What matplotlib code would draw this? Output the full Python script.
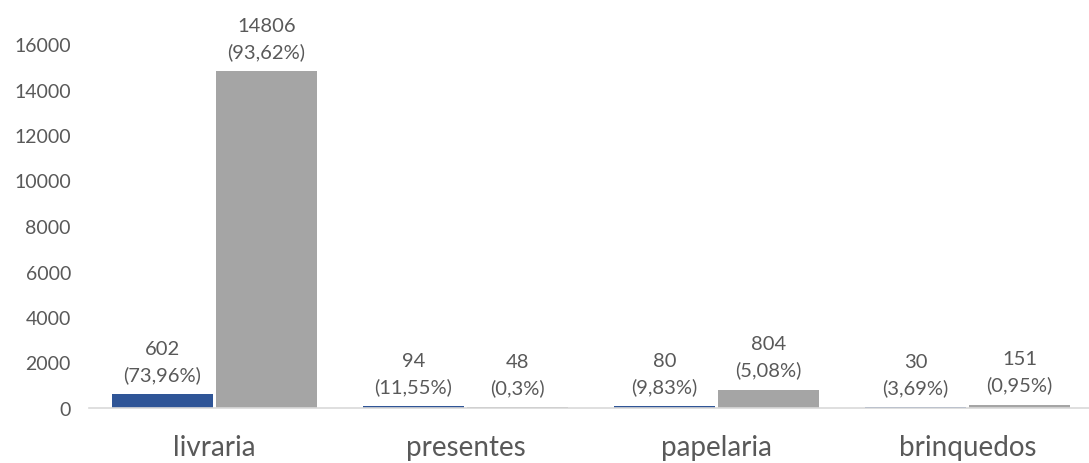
import matplotlib
matplotlib.use("Agg")
import matplotlib.pyplot as plt
import numpy as np

categories = ["livraria", "presentes", "papelaria", "brinquedos"]
series_a = [602, 94, 80, 30]
series_a_pct = ["73,96%", "11,55%", "9,83%", "3,69%"]
series_b = [14806, 48, 804, 151]
series_b_pct = ["93,62%", "0,3%", "5,08%", "0,95%"]
yticks = [0, 2000, 4000, 6000, 8000, 10000, 12000, 14000, 16000]

plt.rcParams['font.family'] = ['Lato', 'DejaVu Sans']
fig = plt.figure(figsize=(10.89, 4.64), dpi=100)
ax = fig.add_axes([89/1089, 1 - 409/464, 1004/1089, 364/464])

x = np.arange(len(categories))
w = 0.402
blue = "#2F5597"
gray = "#A5A5A5"
ba = ax.bar(x - w/2 - 0.006, series_a, w, color=blue)
bb = ax.bar(x + w/2 + 0.006, series_b, w, color=gray)

txtc = "#595959"
for rects, vals, pcts in [(ba, series_a, series_a_pct), (bb, series_b, series_b_pct)]:
    for r, v, p in zip(rects, vals, pcts):
        ax.annotate(f"{v}\n({p})", (r.get_x() + r.get_width()/2, r.get_height()),
                    xytext=(0, 8), textcoords="offset points", ha="center", va="bottom",
                    fontsize=14.5, color=txtc, linespacing=1.55, annotation_clip=False)

ax.set_xlim(-0.5, 3.5)
ax.set_ylim(0, 16000)
ax.set_yticks(yticks)
ax.set_yticklabels([str(t) for t in yticks], fontsize=14, color=txtc)
ax.set_xticks(x)
ax.set_xticklabels(categories, fontsize=20, color=txtc)
ax.tick_params(axis='both', length=0)
ax.tick_params(axis='y', pad=13)
ax.tick_params(axis='x', pad=19)
for s in ["top", "right", "left"]:
    ax.spines[s].set_visible(False)
ax.spines["bottom"].set_color("#D9D9D9")
ax.spines["bottom"].set_linewidth(1.2)

fig.savefig("out.png", dpi=100)
